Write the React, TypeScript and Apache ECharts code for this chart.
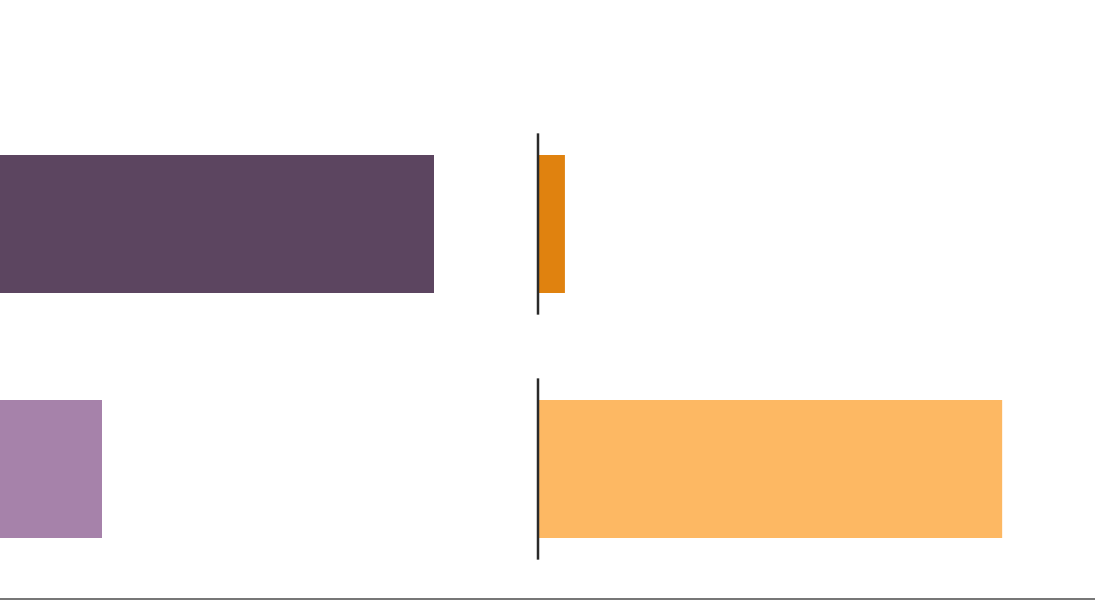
import React, { useEffect, useRef } from "react";
import * as echarts from "echarts";

const categories = ["Group A", "Group B"];
const leftValues = [43.4, 10.2];
const rightValues = [2.9, 50.0];

const leftColors = ["#5c4560", "#a682aa"];
const rightColors = ["#e0820f", "#fdb863"];

export default function App() {
  const ref = useRef<HTMLDivElement>(null);
  useEffect(() => {
    if (!ref.current) return;
    const chart = echarts.init(ref.current, null, { renderer: "svg" });
    chart.setOption({
      animation: false,
      backgroundColor: "#ffffff",
      grid: [
        { left: 0, width: 500, top: 101.5, height: 490 },
        { left: 538, right: 0, top: 101.5, height: 490 },
      ],
      xAxis: [
        { type: "value", gridIndex: 0, min: 0, max: 50, show: false },
        { type: "value", gridIndex: 1, min: 0, max: 60, show: false },
      ],
      yAxis: [
        { type: "category", gridIndex: 0, data: categories, inverse: true, show: false },
        { type: "category", gridIndex: 1, data: categories, inverse: true, show: false },
      ],
      graphic: [
        {
          type: "line",
          shape: { x1: 0, y1: 599, x2: 1095, y2: 599 },
          style: { stroke: "#777777", lineWidth: 2 },
          z: 100,
        },
      ],
      series: [
        {
          type: "bar",
          xAxisIndex: 0,
          yAxisIndex: 0,
          data: leftValues,
          barWidth: "56.3%",
          itemStyle: { color: (p: any) => leftColors[p.dataIndex] },
        },
        {
          type: "bar",
          xAxisIndex: 1,
          yAxisIndex: 1,
          data: rightValues,
          barWidth: "56.3%",
          itemStyle: { color: (p: any) => rightColors[p.dataIndex] },
        },
        {
          type: "custom",
          xAxisIndex: 1,
          yAxisIndex: 1,
          data: categories.map((_, i) => [0, i]),
          encode: { x: 0, y: 1 },
          z: 10,
          renderItem: (params: any, api: any) => {
            const p = api.coord([0, api.value(1)]);
            const h = api.size([0, 1])[1] * 0.74;
            return {
              type: "line",
              shape: { x1: p[0], y1: p[1] - h / 2, x2: p[0], y2: p[1] + h / 2 },
              style: { stroke: "#2a2a2a", lineWidth: 2.5 },
            };
          },
        },
      ],
    });
    return () => chart.dispose();
  }, []);
  return (
    <div
      ref={ref}
      style={{ position: "fixed", left: 0, top: 0, width: 1095, height: 600 }}
    />
  );
}
